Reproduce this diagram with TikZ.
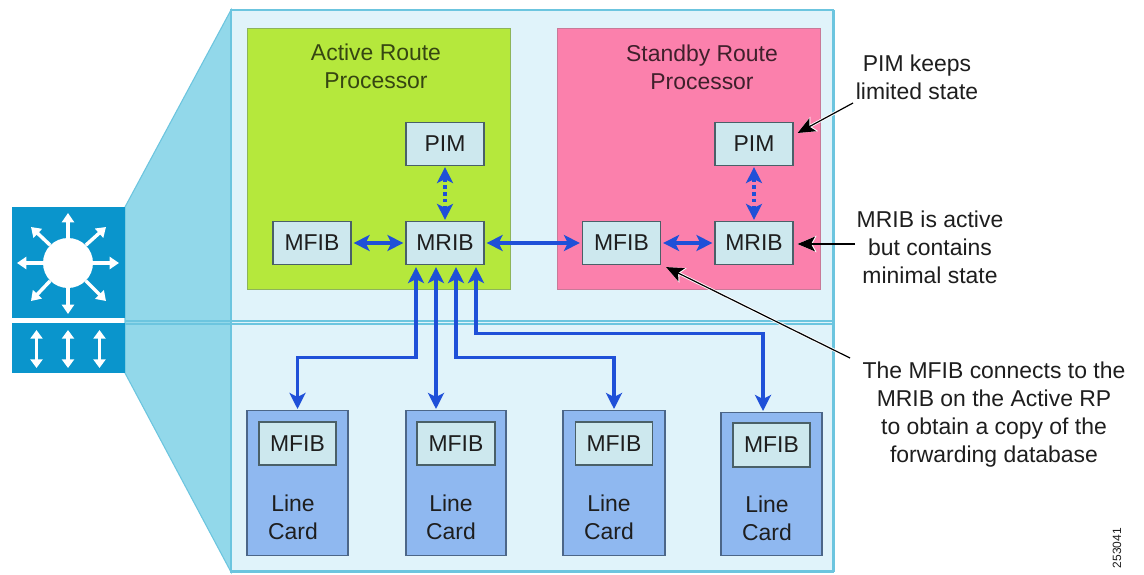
\documentclass[tikz,border=0pt]{standalone}
\usepackage{fontspec}
\setmainfont{Liberation Sans}
\usetikzlibrary{arrows.meta,calc}
\definecolor{panelfill}{HTML}{E0F3FA}
\definecolor{panelline}{HTML}{6CC5DF}
\definecolor{wedgefill}{HTML}{92D8EA}
\definecolor{iconblue}{HTML}{0A95CC}
\definecolor{rpgreen}{HTML}{B5E83C}
\definecolor{rpgreenline}{HTML}{8DB45A}
\definecolor{rppink}{HTML}{FB80AC}
\definecolor{rppinkline}{HTML}{C87A98}
\definecolor{boxfill}{HTML}{CDE8EE}
\definecolor{boxline}{HTML}{4A6068}
\definecolor{cardfill}{HTML}{8FB8F0}
\definecolor{cardline}{HTML}{4C6688}
\definecolor{linkblue}{HTML}{1F50D8}
\definecolor{inktext}{HTML}{1E1E1E}
\tikzset{
  x=0.75pt,y=-0.75pt,
  label text/.style={font=\fontsize{17.2}{21}\selectfont,text=inktext,align=center,inner sep=0pt},
  sized/.style n args={2}{minimum width=#1*0.75pt,minimum height=#2*0.75pt,inner sep=0pt},
  rp green/.style={draw=rpgreenline,fill=rpgreen,line width=0.8pt},
  rp pink/.style={draw=rppinkline,fill=rppink,line width=0.8pt},
  inner box/.style={draw=boxline,fill=boxfill,line width=0.9pt,label text},
  card box/.style={draw=cardline,fill=cardfill,line width=1pt},
  link/.style={draw=linkblue,line width=2.3pt,{Stealth[length=12pt,width=12pt,inset=3pt]}-{Stealth[length=12pt,width=12pt,inset=3pt]}},
  dotted link/.style={link,dash pattern=on 2.6pt off 2.6pt},
  leader/.style={draw=black,line width=0.9pt,-{Stealth[length=13pt,width=11pt,inset=3pt]},
    preaction={draw=white,line width=2.2pt,-{Stealth[length=14pt,width=12pt,inset=3pt]}}},
  icon arrow/.style={draw=white,line width=2.6pt,-{Triangle[length=7pt,width=9pt]}},
  icon biarrow/.style={draw=white,line width=2.6pt,{Triangle[length=6.5pt,width=9pt]}-{Triangle[length=6.5pt,width=9pt]}},
}
\begin{document}
\begin{tikzpicture}
\useasboundingbox (0,0) rectangle (1144,574);
\fill[white] (0,0) rectangle (1144,574);
% wedge and panel
\draw[fill=wedgefill,draw=panelline,line width=0.8pt] (125,207) -- (231,10) -- (231,572) -- (125,373) -- cycle;
\draw[fill=panelfill,draw=panelline,line width=0.9pt] (231,10) rectangle (833,572);
\draw[panelline,line width=2.2pt] (833.5,10) -- (833.5,572);
\draw[panelline,line width=1.6pt] (231,571.5) -- (833,571.5);
\draw[panelline,line width=1pt] (125,321) -- (833,321);
\draw[panelline,line width=1pt] (125,324) -- (833,324);
% icon
\fill[iconblue] (12,207) rectangle (125,318);
\fill[iconblue] (12,323) rectangle (125,373);
\node[circle,fill=white,minimum size=50*0.75pt,inner sep=0pt] (hub) at (68,263) {};
\coordinate (tipN) at (68,213);
\coordinate (tipS) at (68,314);
\coordinate (tipW) at (17,263);
\coordinate (tipE) at (119,263);
\coordinate (tipNW) at (31,227);
\coordinate (tipNE) at (106,227);
\coordinate (tipSW) at (31,301);
\coordinate (tipSE) at (106,301);
\foreach \t/\a in {tipN/90,tipS/-90,tipW/180,tipE/0,tipNW/135,tipNE/45,tipSW/-135,tipSE/-45}{
  \draw[icon arrow] (hub.\a) -- (\t);
}
\foreach \x in {36.5,68,99.5}{
  \draw[icon biarrow] (\x,330) -- (\x,368);
}
% route processors
\node[rp green,sized={263}{261},anchor=north west] (active) at (247,28) {};
\node[rp pink,sized={263}{261},anchor=north west] (standby) at (557,28) {};
\node[label text,text=black!70!rpgreen] (activet) at (376,66) {Active Route\\Processor};
\node[label text,text=black!75!rppink] (standbyt) at (702,67) {Standby Route\\Processor};
\node[inner box,sized={78}{43}] (pima) at (445,144) {PIM};
\node[inner box,sized={78}{43}] (mriba) at (445,243) {MRIB};
\node[inner box,sized={78}{43}] (mfiba) at (312,243) {MFIB};
\node[inner box,sized={78}{43}] (pims) at (754,144) {PIM};
\node[inner box,sized={78}{43}] (mribs) at (754,243) {MRIB};
\node[inner box,sized={78}{43}] (mfibs) at (621.5,243) {MFIB};
% line cards
\node[card box,sized={101}{145},anchor=north] (card1) at (297.5,410) {};
\node[card box,sized={100}{145},anchor=north] (card2) at (456,410) {};
\node[card box,sized={102}{145},anchor=north] (card3) at (614,410) {};
\node[card box,sized={101}{143},anchor=north] (card4) at (771.5,412) {};
\node[inner box,sized={77}{43}] (mfib1) at (297.5,443.5) {MFIB};
\node[inner box,sized={78}{43}] (mfib2) at (456,443.5) {MFIB};
\node[inner box,sized={77}{43}] (mfib3) at (614,443.5) {MFIB};
\node[inner box,sized={77}{44}] (mfib4) at (771.5,445) {MFIB};
\node[label text] (lc1) at (293,517) {Line\\Card};
\node[label text] (lc2) at (451,517) {Line\\Card};
\node[label text] (lc3) at (609,517) {Line\\Card};
\node[label text] (lc4) at (767,518) {Line\\Card};
% links
\draw[dotted link] ($(pima.south)+(0,1)$) -- ($(mriba.north)+(0,-1)$);
\draw[dotted link] ($(pims.south)+(0,1)$) -- ($(mribs.north)+(0,-1)$);
\draw[link] ($(mfiba.east)+(2,0)$) -- ($(mriba.west)+(-2,0)$);
\draw[link] ($(mriba.east)+(2,0)$) -- ($(mfibs.west)+(-2,0)$);
\draw[link] ($(mfibs.east)+(2,0)$) -- ($(mribs.west)+(-2,0)$);
\draw[link] ($(mriba.south)+(-29,2)$) -- ++(0,90) -| ($(card1.north)+(0,-1)$);
\draw[link] ($(mriba.south)+(-9,2)$) -- ($(card2.north)+(-20,-1)$);
\draw[link] ($(mriba.south)+(11,2)$) -- ++(0,90) -| ($(card3.north)+(0,-1)$);
\draw[link] ($(mriba.south)+(31,2)$) -- ++(0,66) -| ($(card4.north)+(-8.5,-1)$);
% notes
\node[label text] (notepim) at (917,77) {PIM keeps\\limited state};
\node[label text] (notemrib) at (930,247) {MRIB is active\\but contains\\minimal state};
\node[label text] (notemfib) at (994,415) {The MFIB connects to the\\MRIB on the Active RP\\to obtain a copy of the\\forwarding database};
\coordinate (leadpim) at (853,103);
\coordinate (leadmrib) at (855,244);
\coordinate (leadmfib) at (850,358);
\draw[leader] (leadpim) -- ($(pims.east)+(4,-11)$);
\draw[leader] (leadmrib) -- ($(mribs.east)+(4,1)$);
\draw[leader] (leadmfib) -- ($(mfibs.south east)+(5,2)$);
% figure number
\node[rotate=90,font=\fontsize{9}{10}\selectfont,text=inktext,inner sep=0pt] (fignum) at (1117,548) {253041};
\end{tikzpicture}
\end{document}
